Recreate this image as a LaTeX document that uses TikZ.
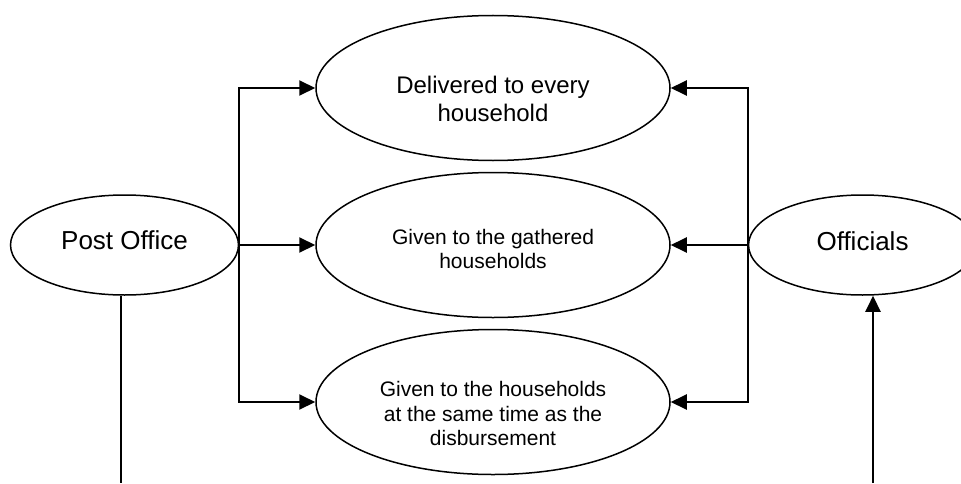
\documentclass[tikz,border=0pt]{standalone}
\usepackage{fontspec}
\setmainfont{Liberation Sans}
\usetikzlibrary{arrows.meta,positioning,shapes.geometric}

\begin{document}
\begin{tikzpicture}[
		x=1pt, y=1pt,
		node distance=5.25pt and 38pt,
		oval/.style={ellipse, draw=black, line width=0.75pt, minimum width=177pt, minimum height=72.5pt, inner sep=0pt},
		endnode/.style={ellipse, draw=black, line width=0.75pt, minimum width=114pt, minimum height=50pt, inner sep=0pt},
		txt/.style={align=center, inner sep=0pt, font=\fontsize{10.5}{12.1}\selectfont},
		bigtxt/.style={txt, font=\fontsize{13}{15}\selectfont},
		link/.style={line width=1pt, -{Triangle[length=8pt,width=7.5pt]}}
	]
		\useasboundingbox (0,0) rectangle (480.5,241.5);
		\clip (0,0) rectangle (480.5,241.5);
		
		\node[oval](out-2) at (246.5,119){};
		\node[oval](out-1)[above =of out-2]{};
		\node[oval](out-3)[below =of out-2]{};
		\node[endnode](post-office)[left =of out-2]{};
		\node[endnode](officials)[right =of out-2,xshift=0.5pt]{};
		
		\node[txt,font=\fontsize{12}{13.8}\selectfont](out-1-txt) at ([yshift=-5.5pt]out-1.center){Delivered to every\\household};
		\node[txt](out-2-txt) at ([yshift=-2pt]out-2.center){Given to the gathered\\households};
		\node[txt](out-3-txt) at ([yshift=-5.75pt]out-3.center){Given to the households\\at the same time as the\\disbursement};
		\node[bigtxt](post-office-txt) at ([yshift=2.25pt]post-office.center){Post Office};
		\node[bigtxt](officials-txt) at ([yshift=2pt]officials.center){Officials};
		
		\draw[link](post-office.east) -- (out-2.west);
		\draw[link](post-office.east) |- (out-1.west);
		\draw[link](post-office.east) |- (out-3.west);
		\draw[link](officials.west) -- (out-2.east);
		\draw[link](officials.west) |- (out-1.east);
		\draw[link](officials.west) |- (out-3.east);
		
		% lines to the page edge
		\coordinate (post-office-end) at (60.5,0);
		\coordinate (officials-end) at (436.5,0);
		\draw[line width=1pt](post-office-end |- post-office.south) -- (post-office-end);
		\draw[link](officials-end) -- (officials-end |- officials.south);
	\end{tikzpicture}
\end{document}
